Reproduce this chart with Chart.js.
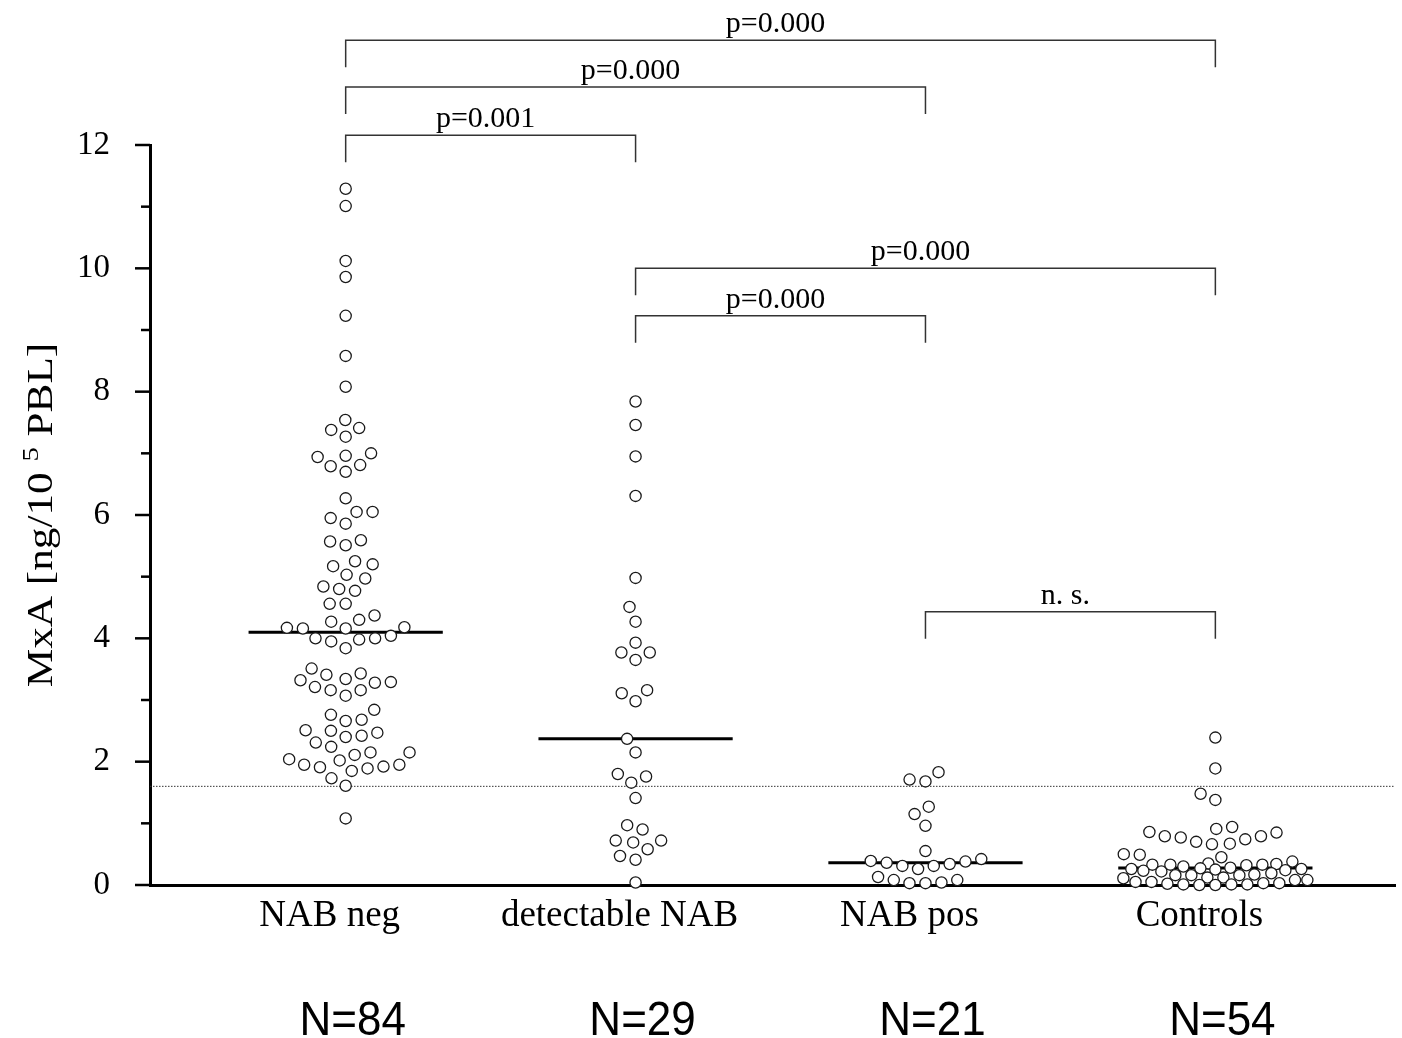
<!DOCTYPE html>
<html>
<head>
<meta charset="utf-8">
<script src="https://cdn.jsdelivr.net/npm/chart.js@4.4.1/dist/chart.umd.min.js"></script>
<style>
  body { margin: 0; background: #fff; }
  canvas { display: block; }
</style>
</head>
<body>
<canvas id="myChart" width="1402" height="1038"></canvas>
<script>
// categories and sample sizes
const groups = ["NAB neg", "detectable NAB", "NAB pos", "Controls"];
const groupN = ["N=84", "N=29", "N=21", "N=54"];

// MxA values (ng/10^5 PBL)
const nabNeg = [11.29, 11.01, 10.12, 9.86, 9.23, 8.58, 8.08, 7.54, 7.41, 7.38, 7.27, 7.00, 6.96, 6.94, 6.81, 6.79, 6.70, 6.27,
  6.05, 6.05, 5.95, 5.86, 5.59, 5.57, 5.51, 5.25, 5.20, 5.17, 5.03, 4.97, 4.84, 4.80, 4.77, 4.56, 4.56, 4.37, 4.30, 4.27, 4.18, 4.17, 4.16, 4.16,
  4.04, 4.00, 4.00, 3.98, 3.95, 3.84, 3.51, 3.43, 3.41, 3.34, 3.32, 3.29, 3.28, 3.21, 3.16, 3.16, 3.07, 2.84, 2.76, 2.68, 2.66, 2.51, 2.50, 2.47, 2.42, 2.40, 2.31, 2.24,
  2.15, 2.15, 2.11, 2.04, 2.02, 1.95, 1.95, 1.92, 1.91, 1.89, 1.85, 1.73, 1.61, 1.08];
const detectableNab = [7.84, 7.46, 6.95, 6.31, 4.98, 4.51, 4.27, 3.93, 3.77, 3.77, 3.65, 3.16, 3.11, 2.98, 2.37,
  2.15, 1.80, 1.76, 1.66, 1.41, 0.97, 0.90, 0.72, 0.72, 0.69, 0.58, 0.47, 0.41, 0.04];
const nabPos = [1.83, 1.71, 1.68, 1.27, 1.15, 0.96, 0.55, 0.42, 0.39, 0.38, 0.36, 0.34, 0.31, 0.31, 0.26,
  0.13, 0.08, 0.08, 0.04, 0.03, 0.03];
const controls = [2.39, 1.89, 1.48, 1.38, 0.94, 0.86, 0.79, 0.77, 0.70, 0.66, 0.67, 0.74, 0.79, 0.85, 0.91,
  0.50, 0.49, 0.45, 0.38, 0.35, 0.34, 0.33, 0.33, 0.33, 0.32, 0.30, 0.28,
  0.27, 0.26, 0.25, 0.24, 0.23, 0.22, 0.19, 0.17, 0.16, 0.16, 0.16, 0.12, 0.12, 0.11, 0.26,
  0.08, 0.08, 0.05, 0.05, 0.03, 0.03, 0.02, 0.01, 0.01, 0.01, 0.00, 0.00];
const seriesValues = [nabNeg, detectableNab, nabPos, controls];

// dotted cut-off line
const cutoff = 1.6;

// y tick labels
const yTicks = [0, 2, 4, 6, 8, 10, 12];

// significance brackets: group index from/to, text, height (MxA units)
const bracketFrom = [0, 0, 0, 1, 1, 2];
const bracketTo = [3, 2, 1, 3, 2, 3];
const bracketText = ["p=0.000", "p=0.000", "p=0.001", "p=0.000", "p=0.000", "n. s."];
const bracketLevel = [13.70, 12.94, 12.16, 10.0, 9.23, 4.43];

const X_MIN = 0.325, X_MAX = 4.62;
const MEDIAN_HALF = 0.335;
const DOT_GAP = 16;     // px between dot centres
const SWARM_CAP = 92;   // max px a dot is pushed sideways
const serif = "'Liberation Serif', 'Times New Roman', serif";
const sans = "'Liberation Sans', Arial, sans-serif";

function median(arr) {
    const s = [...arr].sort((a, b) => a - b);
    const m = s.length >> 1;
    return s.length % 2 ? s[m] : (s[m - 1] + s[m]) / 2;
}

// simple beeswarm: lowest dots first, each at the free offset closest to the centre;
// when the row is full the dot goes to the least crowded spot inside the cap
function swarm(ys, gap, cap) {
    const order = ys.map((v, i) => i).sort((a, b) => ys[a] - ys[b]);
    const placed = [];
    const offs = new Array(ys.length);
    order.forEach(i => {
        const y = ys[i];
        const near = placed.filter(p => Math.abs(p.y - y) < gap);
        const blocks = near.map(p => {
            const dx = Math.sqrt(gap * gap - (p.y - y) * (p.y - y));
            return [p.x - dx, p.x + dx];
        });
        const cands = [0];
        blocks.forEach(b => cands.push(b[0], b[1]));
        cands.sort((a, b) => Math.abs(a) - Math.abs(b) || a - b);
        let x = cands.find(c => Math.abs(c) <= cap && blocks.every(b => c <= b[0] + 1e-6 || c >= b[1] - 1e-6));
        if (x === undefined) {
            let best = Infinity;
            for (let c = -cap; c <= cap; c += 1) {
                const clash = near.reduce((m, p) => Math.max(m, gap - Math.hypot(p.x - c, p.y - y)), 0);
                const score = clash + Math.abs(c) * 0.01;
                if (score < best) { best = score; x = c; }
            }
        }
        placed.push({ x: x, y: y });
        offs[i] = x;
    });
    return offs;
}

const datasets = [];
seriesValues.forEach((vals, g) => {
    datasets.push({
        label: groups[g],
        data: vals.map(v => ({ x: g + 1, y: v })),
        showLine: false,
        pointRadius: 5.6,
        pointBorderWidth: 1.3,
        pointBorderColor: "#1a1a1a",
        pointBackgroundColor: "#ffffff",
        clip: false,
        order: 0
    });
});
seriesValues.forEach((vals, g) => {
    const m = median(vals);
    datasets.push({
        label: "median " + groups[g],
        data: [{ x: g + 1 - MEDIAN_HALF, y: m }, { x: g + 1 + MEDIAN_HALF, y: m }],
        showLine: true,
        borderColor: "#000",
        borderWidth: 3,
        pointRadius: 0,
        order: 1
    });
});
datasets.push({
    label: "cutoff",
    data: [{ x: X_MIN, y: cutoff }, { x: X_MAX, y: cutoff }],
    showLine: true,
    borderColor: "#333",
    borderWidth: 1,
    borderDash: [1.5, 1.5],
    pointRadius: 0,
    order: 2
});

const extras = {
    id: "extras",
    afterDraw(chart) {
        const { ctx, chartArea } = chart;
        const x = chart.scales.x, y = chart.scales.y;
        ctx.save();

        // y tick marks, major and minor
        ctx.strokeStyle = "#000";
        ctx.lineWidth = 2.5;
        for (let v = y.min; v <= y.max; v++) {
            const py = y.getPixelForValue(v);
            const len = v % 2 === 0 ? 15 : 9;
            ctx.beginPath();
            ctx.moveTo(chartArea.left - len, py);
            ctx.lineTo(chartArea.left, py);
            ctx.stroke();
        }

        // brackets
        ctx.strokeStyle = "#333";
        ctx.lineWidth = 1.5;
        ctx.fillStyle = "#000";
        ctx.font = "30px " + serif;
        ctx.textAlign = "center";
        ctx.textBaseline = "alphabetic";
        bracketFrom.forEach((f, i) => {
            const x1 = x.getPixelForValue(f + 1);
            const x2 = x.getPixelForValue(bracketTo[i] + 1);
            const py = y.getPixelForValue(bracketLevel[i]);
            ctx.beginPath();
            ctx.moveTo(x1, py + 27);
            ctx.lineTo(x1, py);
            ctx.lineTo(x2, py);
            ctx.lineTo(x2, py + 27);
            ctx.stroke();
            ctx.fillText(bracketText[i], (x1 + x2) / 2 - 5, py - 8);
        });

        // N labels
        ctx.font = "44px " + sans;
        groupN.forEach((t, i) => {
            ctx.save();
            ctx.translate(x.getPixelForValue(i + 1) + 7, chartArea.bottom + 150);
            ctx.scale(1, 1.1);
            ctx.fillText(t, 0, 0);
            ctx.restore();
        });

        // y axis title with superscript
        ctx.translate(52, (chartArea.top + chartArea.bottom) / 2);
        ctx.rotate(-Math.PI / 2);
        ctx.scale(1.2, 1);
        const p1 = "MxA [ng/10 ", p2 = "5", p3 = " PBL]";
        ctx.font = "36px " + serif;
        const w1 = ctx.measureText(p1).width, w3 = ctx.measureText(p3).width;
        ctx.font = "24px " + serif;
        const w2 = ctx.measureText(p2).width;
        let cx = -(w1 + w2 + w3) / 2;
        ctx.textAlign = "left";
        ctx.font = "36px " + serif;
        ctx.fillText(p1, cx, 0);
        cx += w1;
        ctx.font = "24px " + serif;
        ctx.fillText(p2, cx, -14);
        cx += w2;
        ctx.font = "36px " + serif;
        ctx.fillText(p3, cx, 0);

        ctx.restore();
    }
};

const chart = new Chart("myChart", {
    type: "scatter",
    data: { datasets: datasets },
    plugins: [extras],
    options: {
        responsive: false,
        animation: false,
        events: [],
        layout: { padding: { top: 145, right: 2, left: 0, bottom: 0 } },
        plugins: {
            legend: { display: false },
            tooltip: { enabled: false }
        },
        scales: {
            x: {
                type: "linear",
                min: X_MIN,
                max: X_MAX,
                grid: { display: false, drawTicks: false },
                border: { display: true, color: "#000", width: 3 },
                afterBuildTicks: scale => { scale.ticks = groups.map((g, i) => ({ value: i + 1 })); },
                afterFit: scale => { scale.height = 153; },
                ticks: {
                    autoSkip: false,
                    maxRotation: 0,
                    padding: 9,
                    labelOffset: -16,
                    color: "#000",
                    font: { family: serif, size: 37 },
                    callback: value => groups[value - 1]
                }
            },
            y: {
                min: 0,
                max: 12,
                grid: { display: false, drawTicks: false },
                border: { display: true, color: "#000", width: 3 },
                afterBuildTicks: scale => { scale.ticks = yTicks.map(v => ({ value: v })); },
                afterFit: scale => { scale.width = 150; },
                ticks: {
                    padding: 40,
                    color: "#000",
                    font: { family: serif, size: 33 }
                }
            }
        }
    }
});

// spread the dots sideways once the scales are known
const pxX = chart.scales.x.getPixelForValue(2) - chart.scales.x.getPixelForValue(1);
const pxY = chart.scales.y.getPixelForValue(0) - chart.scales.y.getPixelForValue(1);
seriesValues.forEach((vals, g) => {
    const offs = swarm(vals.map(v => v * pxY), DOT_GAP, SWARM_CAP);
    chart.data.datasets[g].data = vals.map((v, i) => ({ x: g + 1 + offs[i] / pxX, y: v }));
});
chart.update("none");
</script>
</body>
</html>
